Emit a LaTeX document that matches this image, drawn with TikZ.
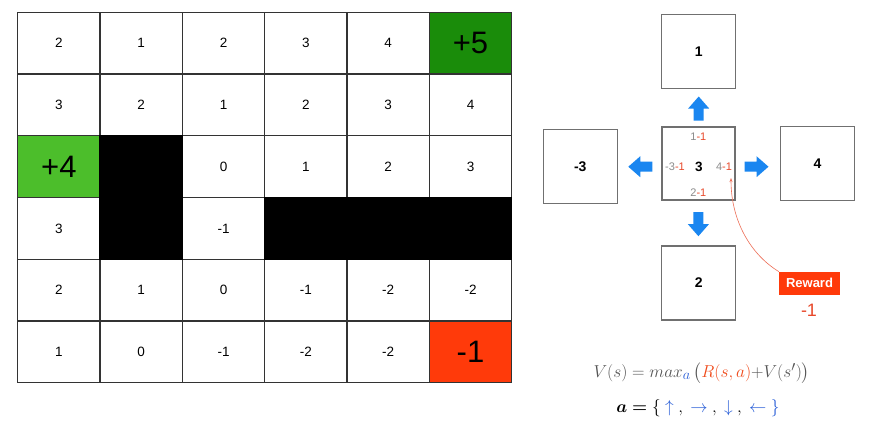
\documentclass[tikz,border=0pt]{standalone}
\usepackage[no-math]{fontspec}
\setmainfont{Liberation Sans}
\usepackage{amsmath,bm}
\usetikzlibrary{arrows.meta}
\definecolor{gridline}{HTML}{333333}
\definecolor{darkgreen}{HTML}{1A8C0A}
\definecolor{lightgreen}{HTML}{4CBE2B}
\definecolor{cellred}{HTML}{FF3A0A}
\definecolor{arrowblue}{HTML}{1A86F0}
\definecolor{boxgray}{HTML}{707070}
\definecolor{labgray}{HTML}{8C8C8C}
\definecolor{labred}{HTML}{E8482A}
\definecolor{formgray}{HTML}{555555}
\definecolor{formred}{HTML}{F04A1A}
\definecolor{formblue}{HTML}{2A5FD8}
\newcommand{\gc}[4]{\node[cell,#3] (c#1#2) at ({17.7+82.33*(#2-0.5)},{12.3+61.73*(#1-0.5)}) {#4};}
\begin{document}
\begin{tikzpicture}[x=1pt,y=-1pt,
  cell/.style={draw=gridline, line width=1.3pt, minimum width=82.33pt, minimum height=61.73pt, inner sep=0pt, font=\fontsize{13.5}{15}\selectfont},
  bigtxt/.style={font=\fontsize{31}{34}\selectfont},
  wall/.style={draw=black, fill=black, line width=1.3pt, inner sep=0pt},
  sbox/.style={draw=boxgray, line width=1.2pt, minimum width=74pt, minimum height=74pt, inner sep=0pt, font=\bfseries\fontsize{14}{16}\selectfont},
  lab/.style={text=labgray, inner sep=0pt, font=\fontsize{11}{13}\selectfont},
  blockarrow/.pic={\fill[arrowblue] (-12,-5) -- (0,-5) -- (0,-10.5) -- (12,0) -- (0,10.5) -- (0,5) -- (-12,5) -- cycle;},
  rewardline/.style={draw=labred!80, line width=0.6pt, -{Stealth[length=4pt,width=3pt]}}
]
\path[fill=white] (0,0) rectangle (876,440);
\useasboundingbox (0,0) rectangle (876,440);
% grid
\gc{1}{1}{}{2}\gc{1}{2}{}{1}\gc{1}{3}{}{2}\gc{1}{4}{}{3}\gc{1}{5}{}{4}\gc{1}{6}{fill=darkgreen,bigtxt}{+5}
\gc{2}{1}{}{3}\gc{2}{2}{}{2}\gc{2}{3}{}{1}\gc{2}{4}{}{2}\gc{2}{5}{}{3}\gc{2}{6}{}{4}
\gc{3}{1}{fill=lightgreen,bigtxt}{+4}\gc{3}{3}{}{0}\gc{3}{4}{}{1}\gc{3}{5}{}{2}\gc{3}{6}{}{3}
\gc{4}{1}{}{3}\gc{4}{3}{}{-1}
\gc{5}{1}{}{2}\gc{5}{2}{}{1}\gc{5}{3}{}{0}\gc{5}{4}{}{-1}\gc{5}{5}{}{-2}\gc{5}{6}{}{-2}
\gc{6}{1}{}{1}\gc{6}{2}{}{0}\gc{6}{3}{}{-1}\gc{6}{4}{}{-2}\gc{6}{5}{}{-2}\gc{6}{6}{fill=cellred,bigtxt}{-1}
\node[wall, minimum width=82.33pt, minimum height=123.46pt] (w1) at (141.2,197.5) {};
\node[wall, minimum width=247pt, minimum height=61.73pt] (w2) at (388.2,228.4) {};
% right diagram
\node[sbox, minimum width=73pt, minimum height=73pt] (ctr) at (698.4,163.4) {};
\node[sbox] (up) at (698.7,51.2) {1};
\node[sbox] (left) at (580.3,166.5) {-3};
\node[sbox] (right) at (817.5,163.4) {4};
\node[sbox] (down) at (698.7,283) {2};
\pic (aup) at (698.7,108.5) [rotate=90] {blockarrow};
\pic (adown) at (698.4,224.2) [rotate=-90] {blockarrow};
\pic (aleft) at (640.3,166.7) [rotate=180] {blockarrow};
\pic (aright) at (756.5,166.7) {blockarrow};
\node[lab] (l1) at (698.4,136.5) {1\textcolor{labred}{-1}};
\node[lab] (l3) at (675,166.7) {-3\textcolor{labred}{-1}};
\node[inner sep=0pt, font=\bfseries\fontsize{13.5}{15}\selectfont] (cv) at (698.9,166.7) {3};
\node[lab] (l4) at (724,166.7) {4\textcolor{labred}{-1}};
\node[lab] (l2) at (698.4,193) {2\textcolor{labred}{-1}};
\coordinate (rtip) at (731,178);
\node[fill=cellred, text=white, inner sep=0pt, minimum width=61pt, minimum height=23pt, font=\bfseries\fontsize{13}{15}\selectfont] (reward) at (809.5,283.3) {Reward};
\node[text=labred, inner sep=0pt, font=\fontsize{18}{20}\selectfont] (rv) at (809,310) {-1};
\draw[rewardline] (reward.north west) .. controls (750,254) and (731,220) .. (rtip);
% formulas
\node[text=formgray, inner sep=0pt, font=\fontsize{19}{22}\selectfont] (f1) at (701.7,373) {$V(s) = max_{\textcolor{formblue}{a}}\,\bigl(\textcolor{formred}{R(s,a)}{+}V(s')\bigr)$};
\node[inner sep=0pt, font=\fontsize{16}{19}\selectfont] (f2) at (698,408) {$\bm{a}\mathrel{\bm{=}}\{\ \textcolor{formblue}{\uparrow}\ ,\ \textcolor{formblue}{\rightarrow}\ ,\ \textcolor{formblue}{\downarrow}\ ,\ \textcolor{formblue}{\leftarrow}\ \textcolor{formblue}{\}}$};
\end{tikzpicture}
\end{document}
